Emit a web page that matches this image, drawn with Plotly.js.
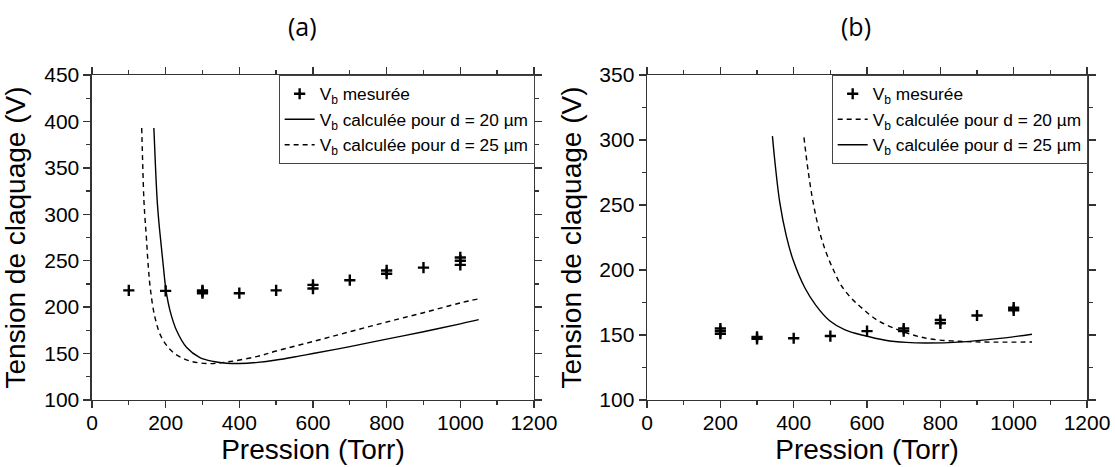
<!DOCTYPE html>
<html>
<head>
<meta charset="utf-8">
<script src="https://cdn.plot.ly/plotly-3.0.1.min.js"></script>
<style>html,body{margin:0;padding:0;background:#fff;}#chart{width:1115px;height:467px;}</style>
</head>
<body>
<div id="chart"></div>
<script>
// ---- Panel (a) data ----
const measA_x = [100, 200, 300, 300, 300, 400, 500, 600, 600, 700, 800, 800, 900, 1000, 1000, 1000];
const measA_y = [218, 217.5, 215, 217, 218, 215, 218, 220, 224, 229, 236, 239.5, 242.5, 245.5, 250, 253.5];

const calcA20_x = [168, 172, 177, 182, 187, 194, 201, 212, 230, 257, 293, 330, 366, 400, 450, 500, 565, 600, 700, 800, 900, 1000, 1050];
const calcA20_y = [393, 355, 315, 290, 270, 243, 218, 196, 174.5, 156.5, 145.7, 141.5, 139.6, 139.3, 140.5, 143, 147.5, 150, 157.5, 165.5, 173.5, 182, 186.5];

const calcA25_x = [135, 138, 141, 144, 147, 153, 159, 171, 189, 221, 266, 320, 375, 450, 500, 600, 700, 800, 900, 1000, 1050];
const calcA25_y = [393, 350, 315, 295, 279, 243, 218, 189, 167.3, 151, 142, 139.2, 141.4, 147, 152.7, 163, 173.5, 184, 194, 204.5, 209];

// ---- Panel (b) data ----
const measB_x = [200, 200, 200, 300, 300, 400, 500, 600, 700, 700, 800, 800, 900, 1000, 1000];
const measB_y = [151, 153, 155, 147, 148.5, 147.5, 149.2, 153, 153, 155, 159, 161.5, 165, 169, 171];

const calcB20_x = [428, 440, 453, 470, 489, 510, 530, 560, 589, 630, 680, 720, 771, 861, 950, 1050];
const calcB20_y = [302, 275, 252, 230, 213, 199, 188, 177.5, 170, 161, 154.5, 150.5, 147, 145, 144.5, 144.6];

const calcB25_x = [342, 350, 362, 380, 398, 430, 460, 498, 540, 589, 650, 707, 760, 861, 950, 1050];
const calcB25_y = [303, 280, 252, 226, 208, 186.5, 173, 161, 154, 149.8, 146, 144.3, 143.8, 144.7, 147, 150.6];

const labelMeas = 'V<sub>b</sub> mesurée';
const label20 = 'V<sub>b</sub> calculée pour d = 20 µm';
const label25 = 'V<sub>b</sub> calculée pour d = 25 µm';
const xTitle = 'Pression (Torr)';
const yTitle = 'Tension de claquage (V)';

const FONT = 'Liberation Sans, Arial, sans-serif';
const markerStyle = {symbol: 'cross-thin', size: 8, color: '#000', line: {color: '#000', width: 2.4}};
const solid = {color: '#000', width: 1.4, shape: 'spline'};
const dashed = {color: '#000', width: 1.4, dash: '5px,4px', shape: 'spline'};

const traces = [
  {x: measA_x, y: measA_y, mode: 'markers', marker: markerStyle, name: labelMeas, xaxis: 'x', yaxis: 'y', legend: 'legend'},
  {x: calcA20_x, y: calcA20_y, mode: 'lines', line: solid, name: label20, xaxis: 'x', yaxis: 'y', legend: 'legend'},
  {x: calcA25_x, y: calcA25_y, mode: 'lines', line: dashed, name: label25, xaxis: 'x', yaxis: 'y', legend: 'legend'},
  {x: measB_x, y: measB_y, mode: 'markers', marker: markerStyle, name: labelMeas, xaxis: 'x2', yaxis: 'y2', legend: 'legend2'},
  {x: calcB20_x, y: calcB20_y, mode: 'lines', line: dashed, name: label20, xaxis: 'x2', yaxis: 'y2', legend: 'legend2'},
  {x: calcB25_x, y: calcB25_y, mode: 'lines', line: solid, name: label25, xaxis: 'x2', yaxis: 'y2', legend: 'legend2'}
];

function xAxis(domain, anchor) {
  return {
    domain: domain, anchor: anchor, range: [0, 1200], dtick: 200, tick0: 0,
    ticks: 'outside', ticklen: 7, tickwidth: 1.3, tickcolor: '#333',
    minor: {dtick: 100, ticks: 'outside', ticklen: 4, tickwidth: 1.3, tickcolor: '#333'},
    showline: true, linecolor: '#333', linewidth: 1.5, mirror: 'ticks',
    showgrid: false, zeroline: false, ticklabelstandoff: -4,
    tickfont: {family: FONT, size: 21, color: '#000'},
    title: {text: xTitle, font: {family: FONT, size: 28, color: '#000'}, standoff: 1}
  };
}
function yAxis(domain, anchor, range) {
  return {
    domain: domain, anchor: anchor, range: range, dtick: 50, tick0: 100,
    ticks: 'outside', ticklen: 7, tickwidth: 1.3, tickcolor: '#333',
    minor: {dtick: 25, ticks: 'outside', ticklen: 4, tickwidth: 1.3, tickcolor: '#333'},
    showline: true, linecolor: '#333', linewidth: 1.5, mirror: 'ticks',
    showgrid: false, zeroline: false,
    tickfont: {family: FONT, size: 21, color: '#000'},
    title: {text: yTitle, font: {family: FONT, size: 28, color: '#000'}}
  };
}

const yDom = [0.1435, 0.8394];
const legendCommon = {
  yanchor: 'top', y: yDom[1], xanchor: 'right',
  bgcolor: '#fff', bordercolor: '#444', borderwidth: 1,
  font: {family: FONT, size: 17.3, color: '#000'},
  itemwidth: 30, tracegroupgap: 0
};

const layout = {
  width: 1115, height: 467,
  margin: {l: 0, r: 0, t: 0, b: 0},
  paper_bgcolor: '#fff', plot_bgcolor: '#fff',
  showlegend: true,
  font: {family: FONT, color: '#000'},
  xaxis: xAxis([0.0825, 0.4789], 'y'),
  yaxis: yAxis(yDom, 'x', [100, 450]),
  xaxis2: xAxis([0.5803, 0.9749], 'y2'),
  yaxis2: yAxis(yDom, 'x2', [100, 350]),
  legend: Object.assign({}, legendCommon, {x: 0.4795}),
  legend2: Object.assign({}, legendCommon, {x: 0.9755}),
  annotations: [
    {text: '(a)', xref: 'paper', yref: 'paper', x: 0.271, y: 0.945, showarrow: false, xanchor: 'center', yanchor: 'middle', font: {family: 'Open Sans, Noto Sans, sans-serif', size: 25, color: '#000'}},
    {text: '(b)', xref: 'paper', yref: 'paper', x: 0.768, y: 0.945, showarrow: false, xanchor: 'center', yanchor: 'middle', font: {family: 'Open Sans, Noto Sans, sans-serif', size: 25, color: '#000'}}
  ]
};

Plotly.newPlot('chart', traces, layout, {displayModeBar: false, staticPlot: true});
</script>
</body>
</html>
